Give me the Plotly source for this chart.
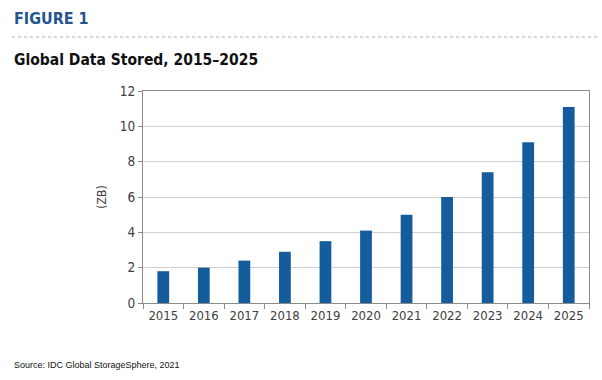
import plotly.graph_objects as go

years = ["2015", "2016", "2017", "2018", "2019", "2020", "2021", "2022", "2023", "2024", "2025"]
data_zb = [1.8, 2.0, 2.4, 2.9, 3.5, 4.1, 5.0, 6.0, 7.4, 9.1, 11.1]
y_ticks = [0, 2, 4, 6, 8, 10, 12]

W, H = 602, 380
L, R, T, B = 143, 13, 91, 77
pw, ph = W - L - R, H - T - B

def px(x):
    return (x - L) / pw

def py(y):
    return (H - B - y) / ph

FONT = "DejaVu Sans Condensed, DejaVu Sans, sans-serif"
TXT = "#404040"

fig = go.Figure(go.Bar(x=years, y=data_zb, marker=dict(color="#155C9D", line=dict(width=0)),
                       width=0.29))

fig.update_layout(
    width=W, height=H,
    margin=dict(l=L, r=R, t=T, b=B, autoexpand=False),
    plot_bgcolor="white", paper_bgcolor="white",
    showlegend=False,
    font=dict(family=FONT, color=TXT, size=13),
    xaxis=dict(type="category", showline=True, linecolor="#8c8c8c", linewidth=1,
               mirror=True, ticks="outside", tickson="boundaries", ticklen=5,
               tickcolor="#8c8c8c", showgrid=False, tickangle=0, automargin=False,
               tickfont=dict(family=FONT, size=13, color=TXT)),
    yaxis=dict(range=[0, 12], tickvals=y_ticks, showline=True, linecolor="#8c8c8c",
               linewidth=1, mirror=True, ticks="outside", ticklen=4, tickcolor="#8c8c8c",
               gridcolor="#cfcfcf", gridwidth=1, zeroline=False, automargin=False,
               tickfont=dict(family=FONT, size=13.5, color=TXT),
               title=dict(text="(ZB)", font=dict(family=FONT, size=12, color=TXT), standoff=10)),
)

fig.add_annotation(text="<b>FIGURE 1</b>", xref="paper", yref="paper", x=px(12), y=py(18),
                   xanchor="left", yanchor="middle", showarrow=False,
                   font=dict(family="DejaVu Sans Condensed, DejaVu Sans", size=16, color="#24558F"))
fig.add_shape(type="line", xref="paper", yref="paper", x0=px(12), x1=px(600), y0=py(37), y1=py(37),
              line=dict(color="#b0b0b0", width=1, dash="dot"))
fig.add_annotation(text="<b>Global Data Stored, 2015–2025</b>", xref="paper", yref="paper",
                   x=px(12), y=py(60), xanchor="left", yanchor="middle", showarrow=False,
                   font=dict(family="DejaVu Sans Condensed, DejaVu Sans", size=15.5, color="#111111"))
fig.add_annotation(text="Source: IDC Global StorageSphere, 2021", xref="paper", yref="paper",
                   x=px(12), y=py(365), xanchor="left", yanchor="middle", showarrow=False,
                   font=dict(family="Liberation Sans, Arial", size=9, color="#111111"))

fig.write_html("out.html", config={"displayModeBar": False},
               post_script="document.body.style.margin='0';document.body.style.padding='0';")
